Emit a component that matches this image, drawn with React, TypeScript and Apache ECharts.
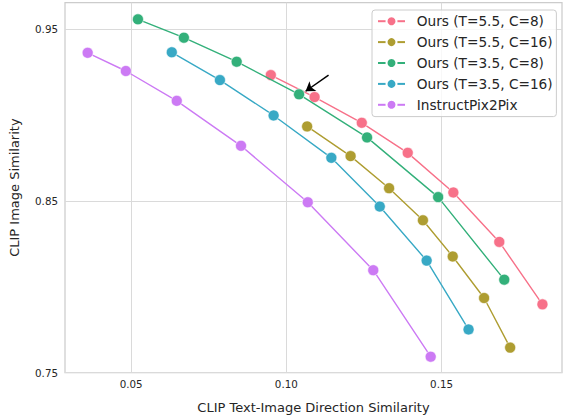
import { useEffect, useRef } from "react";
import * as echarts from "echarts";

const seriesNames = [
  "Ours (T=5.5, C=8)",
  "Ours (T=5.5, C=16)",
  "Ours (T=3.5, C=8)",
  "Ours (T=3.5, C=16)",
  "InstructPix2Pix",
];
const seriesColors = ["#f77189", "#ae9d31", "#33b07a", "#38a9c5", "#cc7af4"];

// CLIP Text-Image Direction Similarity (x) / CLIP Image Similarity (y)
const t55c8X = [0.095, 0.1091, 0.1243, 0.1391, 0.1538, 0.1686, 0.1825];
const t55c8Y = [0.9233, 0.9105, 0.8955, 0.878, 0.8549, 0.8261, 0.7897];

const t55c16X = [0.1067, 0.1207, 0.1331, 0.144, 0.1536, 0.1637, 0.1721];
const t55c16Y = [0.8934, 0.8761, 0.8574, 0.8387, 0.8176, 0.7934, 0.7645];

const t35c8X = [0.0522, 0.067, 0.084, 0.1041, 0.126, 0.1489, 0.1702];
const t35c8Y = [0.9558, 0.9451, 0.9311, 0.9121, 0.887, 0.8522, 0.8041];

const t35c16X = [0.0631, 0.0786, 0.0959, 0.1145, 0.1301, 0.1452, 0.1587];
const t35c16Y = [0.9366, 0.9204, 0.8998, 0.8751, 0.8467, 0.8152, 0.7751];

const ip2pX = [0.036, 0.0483, 0.0647, 0.0854, 0.1069, 0.128, 0.1465];
const ip2pY = [0.9363, 0.9257, 0.9083, 0.8821, 0.8492, 0.8096, 0.7592];

const xTicks = [0.05, 0.1, 0.15];
const yTicks = [0.75, 0.85, 0.95];
const xRange = [0.0287, 0.1888];
const yRange = [0.75, 0.9655];

// annotation arrow (tail -> head), pointing at a T=3.5, C=8 point
const arrowFrom = [0.1136, 0.9233];
const arrowTo = [0.1062, 0.9139];

const xs = [t55c8X, t55c16X, t35c8X, t35c16X, ip2pX];
const ys = [t55c8Y, t55c16Y, t35c8Y, t35c16Y, ip2pY];

const FONT = "DejaVu Sans";
const TEXT = "#262626";

export default function App() {
  const ref = useRef<HTMLDivElement>(null);

  useEffect(() => {
    if (!ref.current) return;
    const chart = echarts.init(ref.current, undefined, { renderer: "svg" });

    const series: any[] = seriesNames.map((name, i) => ({
      name,
      type: "line",
      data: xs[i].map((x, j) => [x, ys[i][j]]),
      symbol: "circle",
      symbolSize: 11,
      showSymbol: true,
      lineStyle: { width: 1.4, color: seriesColors[i] },
      itemStyle: { color: seriesColors[i], borderColor: "#ffffff", borderWidth: 0.6 },
      emphasis: { disabled: true },
      z: 2 + i,
    }));

    series.push({
      name: "arrow",
      type: "line",
      data: [],
      silent: true,
      z: 10,
      markLine: {
        silent: true,
        animation: false,
        symbol: ["none", "arrow"],
        symbolSize: 9,
        label: { show: false },
        emphasis: { disabled: true },
        lineStyle: { color: "#000000", width: 1.5, type: "solid" },
        itemStyle: { color: "#000000" },
        data: [
          [
            { coord: arrowFrom, symbol: "none" },
            { coord: arrowTo, symbol: "arrow", symbolSize: 9 },
          ],
        ],
      },
    });

    chart.setOption({
      animation: false,
      backgroundColor: "#ffffff",
      textStyle: { fontFamily: FONT },
      grid: {
        left: 64,
        right: 1,
        top: 2.7,
        bottom: 46.5,
        show: true,
        borderColor: "#cccccc",
        borderWidth: 1.25,
        backgroundColor: "transparent",
      },
      xAxis: {
        type: "value",
        min: xRange[0],
        max: xRange[1],
        name: "CLIP Text-Image Direction Similarity",
        nameLocation: "middle",
        nameGap: 28,
        nameTextStyle: { fontSize: 13, color: TEXT, fontFamily: FONT },
        axisLine: { show: false },
        axisTick: { show: false, customValues: xTicks },
        axisLabel: {
          customValues: xTicks,
          formatter: (v: number) => v.toFixed(2),
          margin: 6,
          fontSize: 10.3,
          color: TEXT,
          fontFamily: FONT,
        },
        splitLine: { show: true, lineStyle: { color: "#dadada", width: 1 } },
      },
      yAxis: {
        type: "value",
        min: yRange[0],
        max: yRange[1],
        name: "CLIP Image Similarity",
        nameLocation: "middle",
        nameGap: 44,
        nameTextStyle: { fontSize: 13, color: TEXT, fontFamily: FONT },
        axisLine: { show: false },
        axisTick: { show: false, customValues: yTicks },
        axisLabel: {
          customValues: yTicks,
          formatter: (v: number) => v.toFixed(2),
          margin: 7,
          fontSize: 10.3,
          color: TEXT,
          fontFamily: FONT,
        },
        splitLine: { show: true, lineStyle: { color: "#dadada", width: 1 } },
      },
      legend: {
        orient: "vertical",
        left: 372,
        top: 10,
        padding: [4.2, 3.7, 4.8, 5],
        itemWidth: 27,
        itemHeight: 12.5,
        itemGap: 6.9,
        backgroundColor: "rgba(255,255,255,0.8)",
        borderColor: "#cccccc",
        borderWidth: 1,
        borderRadius: 3,
        textStyle: { fontSize: 13.7, color: TEXT, fontFamily: FONT, padding: [0, 0, 0, 6.7] },
        data: seriesNames,
      },
      series,
    });

    return () => chart.dispose();
  }, []);

  return (
    <div
      ref={ref}
      style={{ position: "fixed", left: 0, top: 0, width: 563, height: 419 }}
    />
  );
}
